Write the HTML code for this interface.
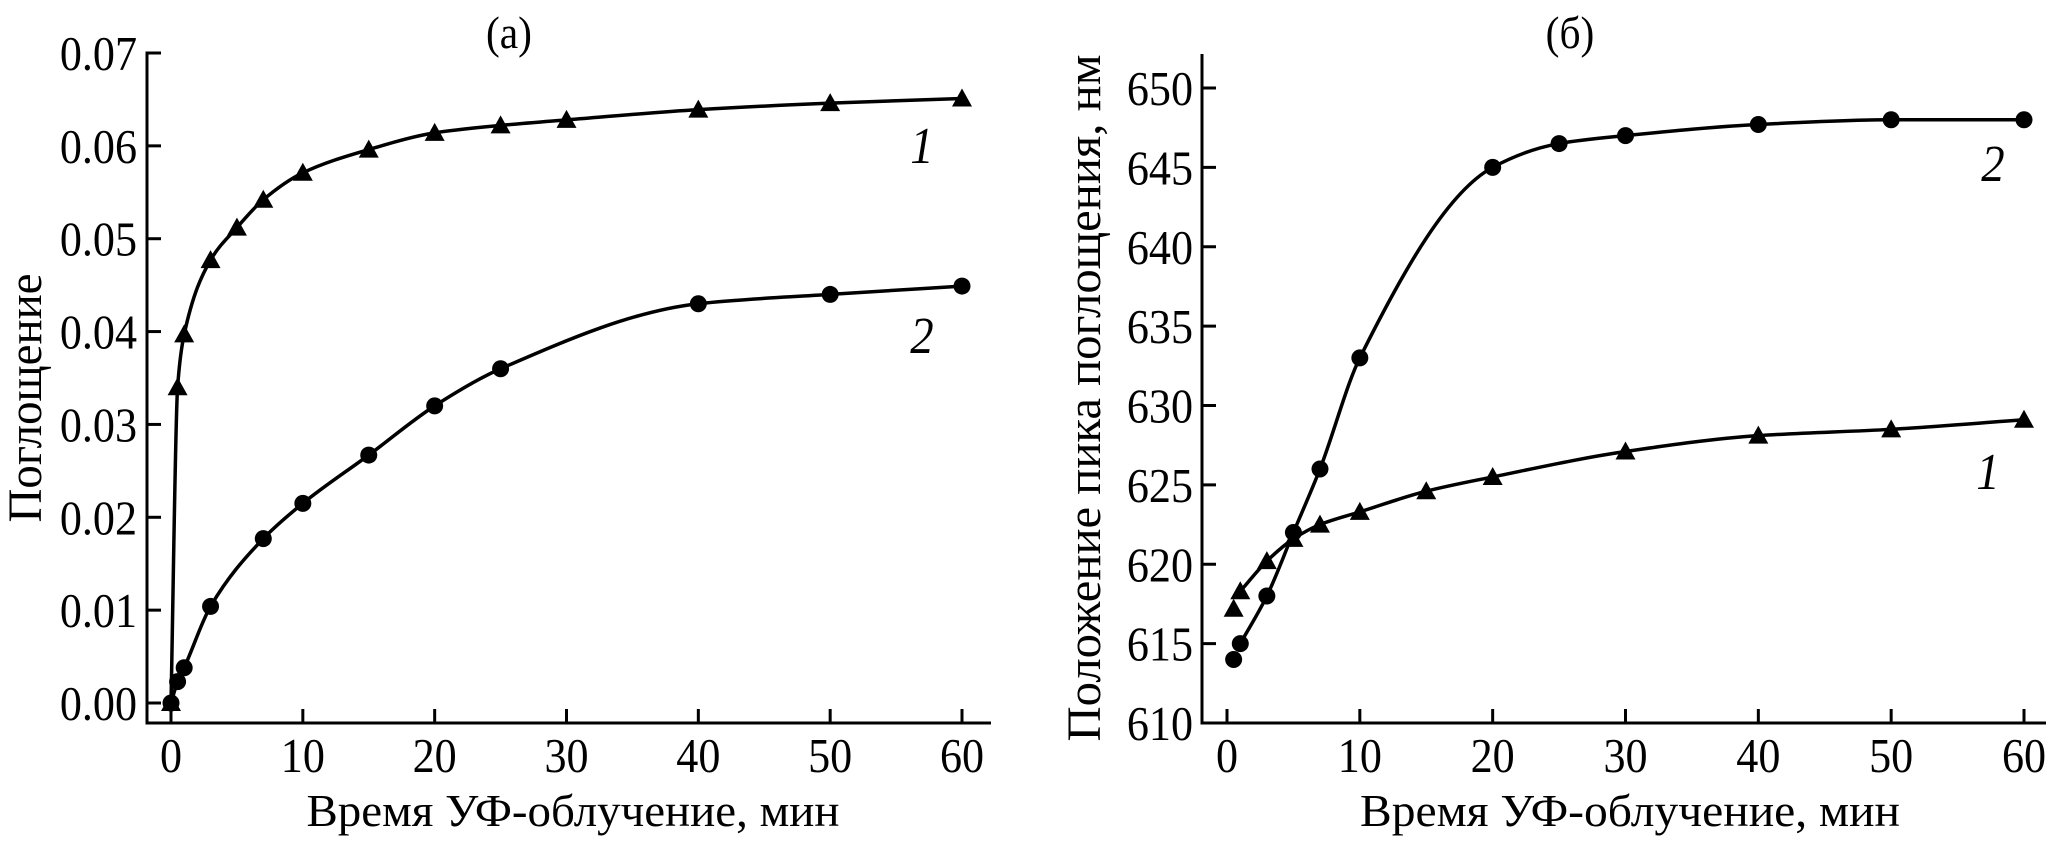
<!DOCTYPE html>
<html><head><meta charset="utf-8"><style>
html,body{margin:0;padding:0;background:#fff;}
svg{display:block;}
text{font-family:"Liberation Serif",serif;fill:#000;}
</style></head>
<body>
<svg id="chart" width="2066" height="849" viewBox="0 0 2066 849" xmlns="http://www.w3.org/2000/svg"></svg>
<script>
// Panel (a) data
const aX1 = [0, 0.5, 1, 3, 5, 7, 10, 15, 20, 25, 30, 40, 50, 60];
const aY1 = [0, 0.034, 0.0397, 0.0477, 0.0512, 0.0542, 0.0571, 0.0596, 0.0614, 0.0622, 0.0628, 0.0639, 0.0646, 0.0651];
const aX2 = [0, 0.5, 1, 3, 7, 10, 15, 20, 25, 40, 50, 60];
const aY2 = [0, 0.0023, 0.0038, 0.0104, 0.0177, 0.0215, 0.0267, 0.032, 0.036, 0.043, 0.044, 0.0449];
const aYTicks = [0, 0.01, 0.02, 0.03, 0.04, 0.05, 0.06, 0.07];
const aYTickLabels = ["0.00","0.01","0.02","0.03","0.04","0.05","0.06","0.07"];
// Panel (b) data
const bX1 = [0.5, 1, 3, 5, 7, 10, 15, 20, 30, 40, 50, 60];
const bY1 = [617.2, 618.3, 620.2, 621.6, 622.5, 623.3, 624.6, 625.5, 627.1, 628.1, 628.5, 629.1];
const bX2 = [0.5, 1, 3, 5, 7, 10, 20, 25, 30, 40, 50, 60];
const bY2 = [614, 615, 618, 622, 626, 633, 645, 646.5, 647, 647.7, 648, 648];
const bYTicks = [610, 615, 620, 625, 630, 635, 640, 645, 650];
const xTicks = [0, 10, 20, 30, 40, 50, 60];

const NS = "http://www.w3.org/2000/svg";
const svg = document.getElementById("chart");
function el(tag, attrs, parent){
  const e = document.createElementNS(NS, tag);
  for (const k in attrs) e.setAttribute(k, attrs[k]);
  (parent||svg).appendChild(e);
  return e;
}
function txt(s, attrs, parent){ const t = el("text", attrs, parent); t.textContent = s; return t; }
function stxt(s, x, y, size, anchor, parent, italic){
  const a = {x:0, y:0, "font-size":size, "text-anchor":anchor, transform:"translate("+x+","+y+") scale(0.9,1)"};
  if (italic) a["font-style"] = "italic";
  return txt(s, a, parent);
}

// scales
const ax = v => 171 + v * (962 - 171) / 60;
const ay = v => 703 - v * (703 - 53) / 0.07;
const bx = v => 1227 + v * (2024 - 1227) / 60;
const by = v => 723 - (v - 610) * (723 - 88) / 40;

// monotone cubic (Fritsch-Carlson) path
function smoothPath(xs, ys, sx, sy){
  const p = xs.map((x,i)=>[sx(x), sy(ys[i])]);
  const n = p.length;
  const d = [], m = [];
  for (let i=0;i<n-1;i++) d.push((p[i+1][1]-p[i][1])/(p[i+1][0]-p[i][0]));
  m[0] = d[0]; m[n-1] = d[n-2];
  for (let i=1;i<n-1;i++){
    if (d[i-1]*d[i] <= 0) m[i] = 0;
    else {
      const h0 = p[i][0]-p[i-1][0], h1 = p[i+1][0]-p[i][0];
      const w1 = 2*h1+h0, w2 = h1+2*h0;
      m[i] = (w1+w2)/(w1/d[i-1]+w2/d[i]);
    }
  }
  let s = "M" + p[0][0] + "," + p[0][1];
  for (let i=0;i<n-1;i++){
    const h = (p[i+1][0]-p[i][0])/3;
    s += " C"+(p[i][0]+h)+","+(p[i][1]+m[i]*h)+" "+(p[i+1][0]-h)+","+(p[i+1][1]-m[i+1]*h)+" "+p[i+1][0]+","+p[i+1][1];
  }
  return s;
}
function tri(g, cx, cy){
  return el("polygon", {points:(cx-10)+","+(cy+8)+" "+(cx+10)+","+(cy+8)+" "+cx+","+(cy-10), fill:"#000"}, g);
}

// ---------- Panel (a) ----------
const ga = el("g", {});


const axA = el("path", {d:"M161,53 H147 V723 H991", fill:"none", stroke:"#000", "stroke-width":3}, ga);


aYTicks.forEach((v,i)=>{
  const y = ay(v);
  const tk = el("line", {x1:147, x2:161, y1:y, y2:y, stroke:"#000", "stroke-width":3}, ga);
  
  
  const lb = stxt(aYTickLabels[i], 137, y+17, 49, "end", ga);
  
  
});
xTicks.forEach(v=>{
  const x = ax(v);
  const tk = el("line", {x1:x, x2:x, y1:723, y2:709, stroke:"#000", "stroke-width":3}, ga);
  
  
  const lb = stxt(String(v), x, 772, 49, "middle", ga);
  
  
});
const la1 = el("path", {d:smoothPath(aX1, aY1, ax, ay), fill:"none", stroke:"#000", "stroke-width":3.5}, ga);


const la2 = el("path", {d:smoothPath(aX2, aY2, ax, ay), fill:"none", stroke:"#000", "stroke-width":3.5}, ga);


aX1.forEach((x,i)=>{
  const m = tri(ga, ax(x), ay(aY1[i]));
  
  
});
aX2.forEach((x,i)=>{
  const m = el("circle", {cx:ax(x), cy:ay(aY2[i]), r:8.5, fill:"#000"}, ga);
  
  
});
const ta = stxt("(а)", 509, 48, 46, "middle", ga);


const yta = txt("Поглощение", {x:0, y:0, "font-size":48, "text-anchor":"middle", transform:"translate(41,398) rotate(-90)", textLength:249, lengthAdjust:"spacingAndGlyphs"}, ga);


const xta = txt("Время УФ-облучение, мин", {x:573, y:826, "font-size":46, "text-anchor":"middle", textLength:533, lengthAdjust:"spacingAndGlyphs"}, ga);


const ca1 = stxt("1", 922, 163, 52, "middle", ga, true);


const ca2 = stxt("2", 922, 353, 52, "middle", ga, true);



// ---------- Panel (b) ----------
const gb = el("g", {});


const axB = el("path", {d:"M1202,54 V723 H2046", fill:"none", stroke:"#000", "stroke-width":3}, gb);


bYTicks.forEach(v=>{
  const y = by(v);
  const tk = el("line", {x1:1202, x2:1216, y1:y, y2:y, stroke:"#000", "stroke-width":3}, gb);
  
  
  const lb = stxt(String(v), 1193, y+17, 49, "end", gb);
  
  
});
xTicks.forEach(v=>{
  const x = bx(v);
  const tk = el("line", {x1:x, x2:x, y1:723, y2:709, stroke:"#000", "stroke-width":3}, gb);
  
  
  const lb = stxt(String(v), x, 772, 49, "middle", gb);
  
  
});
const lb1 = el("path", {d:smoothPath(bX1.slice(1), bY1.slice(1), bx, by), fill:"none", stroke:"#000", "stroke-width":3.5}, gb);


const lb2 = el("path", {d:smoothPath(bX2.slice(1), bY2.slice(1), bx, by), fill:"none", stroke:"#000", "stroke-width":3.5}, gb);


bX1.forEach((x,i)=>{
  const m = tri(gb, bx(x), by(bY1[i]));
  
  
});
bX2.forEach((x,i)=>{
  const m = el("circle", {cx:bx(x), cy:by(bY2[i]), r:8.5, fill:"#000"}, gb);
  
  
});
const tb = stxt("(б)", 1570, 48, 46, "middle", gb);


const ytb = txt("Положение пика поглощения, нм", {x:0, y:0, "font-size":48, "text-anchor":"middle", transform:"translate(1100,398) rotate(-90)", textLength:687, lengthAdjust:"spacingAndGlyphs"}, gb);


const xtb = txt("Время УФ-облучение, мин", {x:1630, y:826, "font-size":46, "text-anchor":"middle", textLength:540, lengthAdjust:"spacingAndGlyphs"}, gb);


const cb2 = stxt("2", 1993, 181, 52, "middle", gb, true);


const cb1 = stxt("1", 1988, 489, 52, "middle", gb, true);


</script>
</body></html>
